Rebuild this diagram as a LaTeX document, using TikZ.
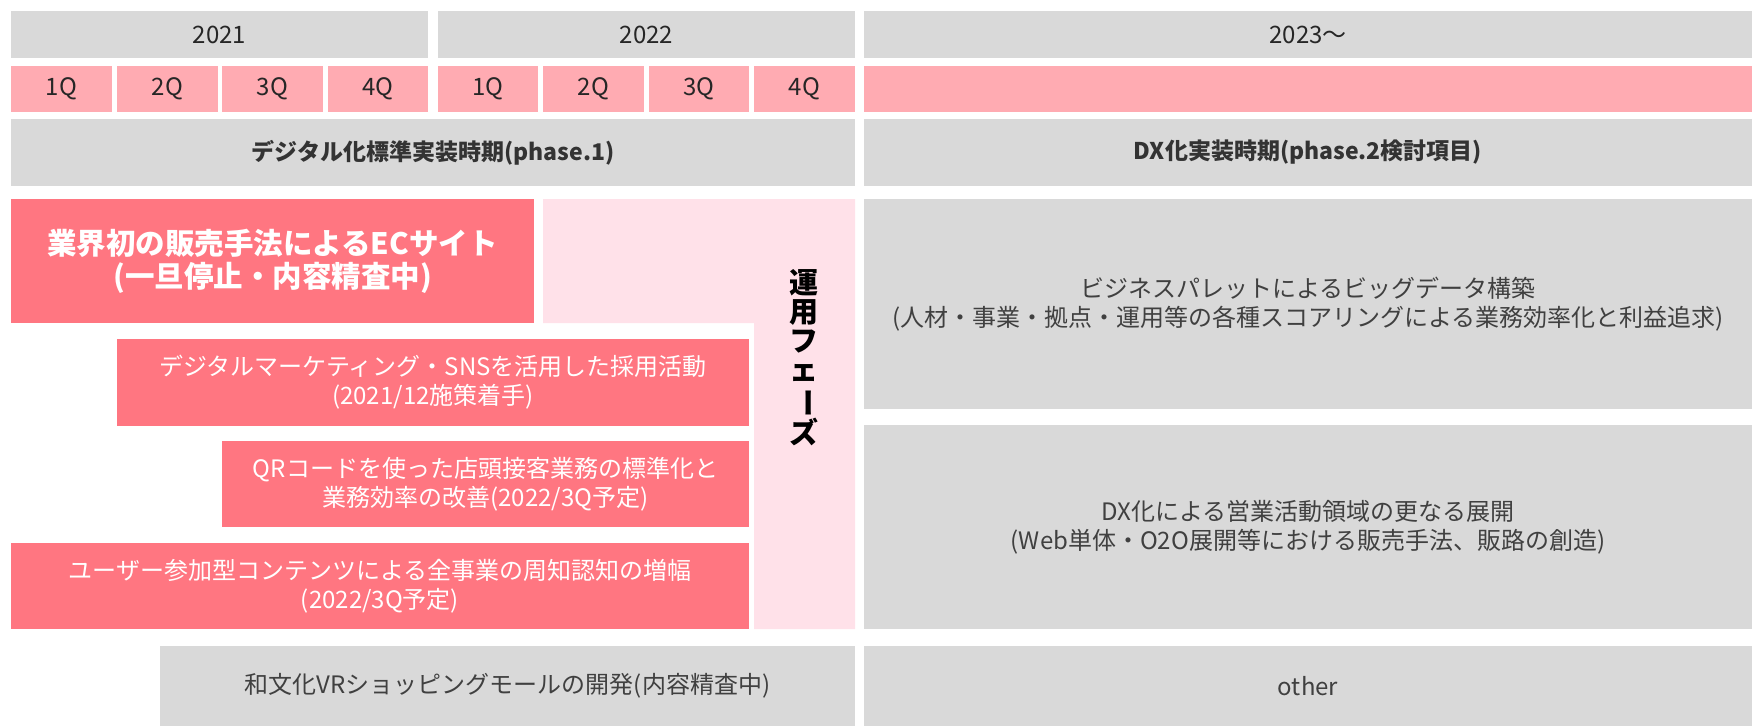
\documentclass[tikz,border=0pt]{standalone}
\usepackage{fontspec}
\setmainfont{Noto Sans CJK JP}
\usepackage{graphicx}
\definecolor{boxgray}{HTML}{D9D9D9}
\definecolor{qpink}{HTML}{FFABB2}
\definecolor{redc}{HTML}{FF7681}
\definecolor{palepink}{HTML}{FFE1E9}
\definecolor{txtdark}{HTML}{262626}
\definecolor{txtphase}{HTML}{333333}
\definecolor{txtgray}{HTML}{404040}
\newcommand\cellbox[7]{\node[#1, minimum width={(#5-#3)*1pt}, minimum height={(#6-#4)*1pt}] (#2) at ({(#3+#5)/2},{(#4+#6)/2}) {#7};}
\begin{document}
\begin{tikzpicture}[x=1pt,y=-1pt,
  cell/.style={inner sep=0pt, outer sep=0pt, align=center},
  graybox/.style={cell, fill=boxgray},
  qbox/.style={cell, fill=qpink},
  redbox/.style={cell, fill=redc, text=white},
  yeartxt/.style={font=\fontsize{24}{28}\selectfont, text=txtdark},
  phasetxt/.style={font=\bfseries\fontsize{23}{28}\selectfont, text=txtphase},
  lighttxt/.style={font=\fontsize{24}{29}\selectfont},
  titletxt/.style={font=\bfseries\fontsize{29.5}{33}\selectfont},
  graytxt/.style={lighttxt, text=txtgray},
  vtxt/.style={cell, font=\bfseries\fontsize{29}{29}\selectfont, text=black}
]
\useasboundingbox (0,0) rectangle (1752,726);
% years
\cellbox{graybox,yeartxt}{y21}{11}{11}{428}{58}{2021}
\cellbox{graybox,yeartxt}{y22}{438}{11}{855}{58}{2022}
\cellbox{graybox,yeartxt}{y23}{864}{11}{1752}{58}{2023〜}
% quarters
\cellbox{qbox,yeartxt}{q1a}{11}{66}{112}{112}{1Q}
\cellbox{qbox,yeartxt}{q2a}{117}{66}{218}{112}{2Q}
\cellbox{qbox,yeartxt}{q3a}{222}{66}{323}{112}{3Q}
\cellbox{qbox,yeartxt}{q4a}{328}{66}{428}{112}{4Q}
\cellbox{qbox,yeartxt}{q1b}{438}{66}{538}{112}{1Q}
\cellbox{qbox,yeartxt}{q2b}{543}{66}{644}{112}{2Q}
\cellbox{qbox,yeartxt}{q3b}{649}{66}{749}{112}{3Q}
\cellbox{qbox,yeartxt}{q4b}{754}{66}{855}{112}{4Q}
\cellbox{qbox}{q23}{864}{66}{1752}{112}{}
% phases
\cellbox{graybox,phasetxt}{ph1}{11}{119}{855}{186}{デジタル化標準実装時期(phase.1)}
\cellbox{graybox,phasetxt}{ph2}{864}{119}{1752}{186}{DX化実装時期(phase.2検討項目)}
% operation phase (L shape)
\fill[palepink] (543,199) -- (855,199) -- (855,629) -- (754,629) -- (754,323) -- (543,323) -- cycle;
\node[vtxt, align=center] (ops) at (804,358) {運\\用\\フ\\ェ\\\rotatebox[origin=c]{-90}{ー}\\ズ};
% red boxes
\cellbox{redbox,titletxt}{ec}{11}{199}{534}{323}{業界初の販売手法によるECサイト\\(一旦停止・内容精査中)}
\cellbox{redbox,lighttxt}{sns}{117}{339}{749}{426}{デジタルマーケティング・SNSを活用した採用活動\\(2021/12施策着手)}
\cellbox{redbox,lighttxt}{qr}{222}{441}{749}{527}{QRコードを使った店頭接客業務の標準化と\\業務効率の改善(2022/3Q予定)}
\cellbox{redbox,lighttxt}{ugc}{11}{543}{749}{629}{ユーザー参加型コンテンツによる全事業の周知認知の増幅\\(2022/3Q予定)}
% right gray boxes
\cellbox{graybox,graytxt}{bp}{864}{199}{1752}{409}{ビジネスパレットによるビッグデータ構築\\(人材・事業・拠点・運用等の各種スコアリングによる業務効率化と利益追求)}
\cellbox{graybox,graytxt}{dx}{864}{425}{1752}{629}{DX化による営業活動領域の更なる展開\\(Web単体・O2O展開等における販売手法、販路の創造)}
% bottom
\cellbox{graybox,graytxt}{vr}{160}{646}{855}{726}{和文化VRショッピングモールの開発(内容精査中)}
\cellbox{graybox,graytxt}{other}{864}{646}{1752}{726}{other}
\end{tikzpicture}
\end{document}
